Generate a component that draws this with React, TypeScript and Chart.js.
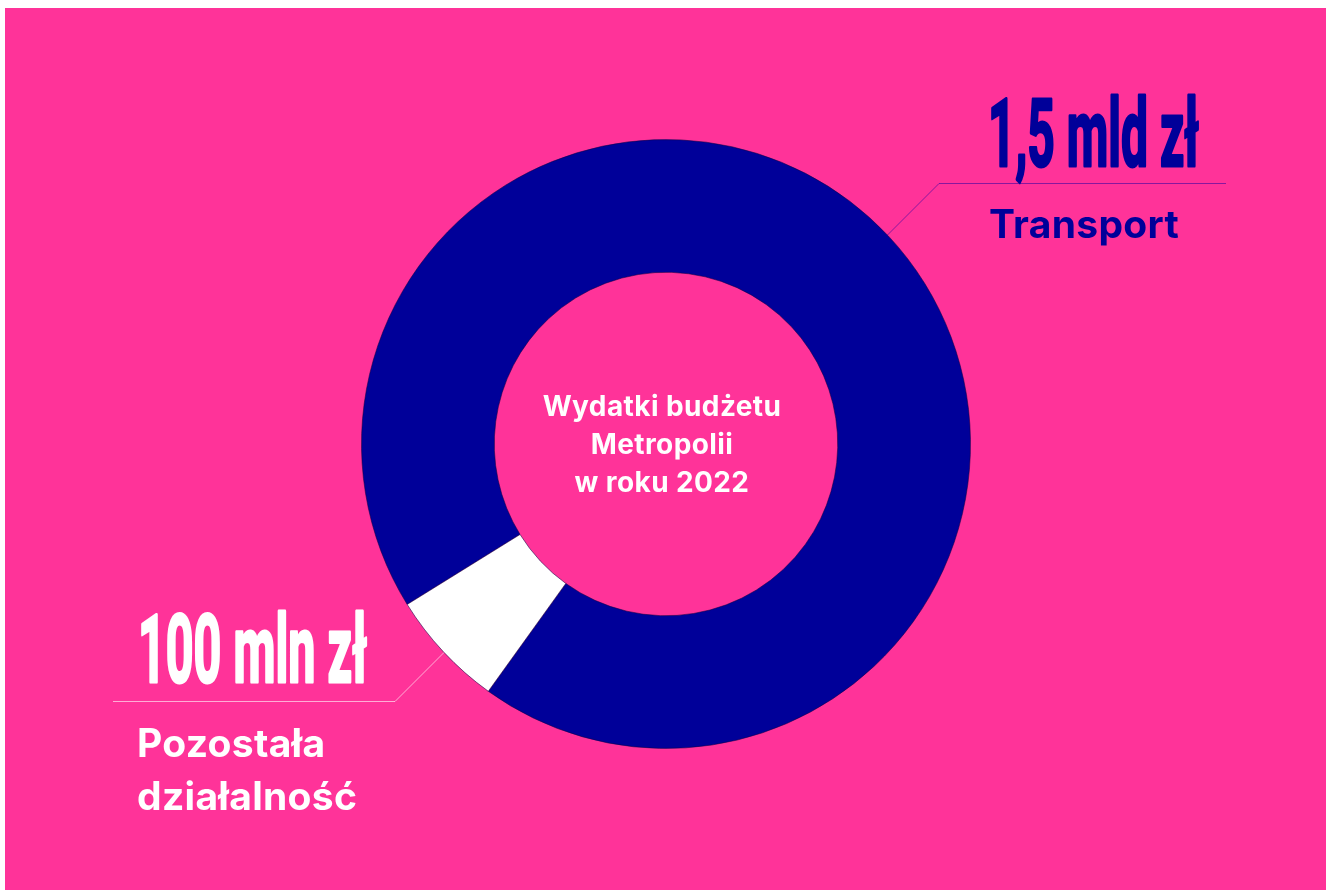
import React, { useEffect, useRef } from "react";
import { Chart, registerables } from "chart.js";

Chart.register(...registerables);

// ---- data ----
const categories = ["Transport", "Pozostała działalność"];
const values = [1500, 100]; // mln zł
const valueLabels = ["1,5 mld zł", "100 mln zł"];
const transportLines = ["Transport"];
const otherLines = ["Pozostała", "działalność"];
const centerLines = ["Wydatki budżetu", "Metropolii", "w roku 2022"];

// ---- styles ----
const PINK = "#ff3399";
const NAVY = "#000099";
const WHITE = "#ffffff";
const sliceColors = [NAVY, WHITE];

function drawCondensed(
  ctx: CanvasRenderingContext2D,
  text: string,
  x: number,
  y: number,
  width: number,
  font: string,
  color: string
) {
  ctx.save();
  ctx.font = font;
  const w = ctx.measureText(text).width;
  ctx.translate(x + 1, y - 1);
  ctx.scale((width - 2) / w, 1);
  ctx.fillStyle = color;
  ctx.strokeStyle = color;
  ctx.lineWidth = 3;
  ctx.lineJoin = "round";
  ctx.textAlign = "left";
  ctx.textBaseline = "alphabetic";
  ctx.fillText(text, 0, 0);
  ctx.strokeText(text, 0, 0);
  ctx.restore();
}

function drawText(
  ctx: CanvasRenderingContext2D,
  text: string,
  x: number,
  y: number,
  font: string,
  color: string,
  align: CanvasTextAlign = "left",
  spacing = "0px"
) {
  ctx.save();
  ctx.font = font;
  (ctx as any).letterSpacing = spacing;
  ctx.fillStyle = color;
  ctx.textAlign = align;
  ctx.textBaseline = "alphabetic";
  ctx.fillText(text, x, y);
  ctx.restore();
}

const annotationPlugin = {
  id: "annotations",
  beforeDatasetsDraw(chart: any) {
    const ctx: CanvasRenderingContext2D = chart.ctx;
    ctx.save();
    ctx.lineWidth = 1;
    ctx.strokeStyle = "rgba(40,0,160,0.55)";
    ctx.beginPath();
    ctx.moveTo(874, 235.5);
    ctx.lineTo(934, 175.5);
    ctx.lineTo(1221, 175.5);
    ctx.stroke();
    ctx.strokeStyle = "rgba(255,255,255,0.6)";
    ctx.beginPath();
    ctx.moveTo(450, 633.5);
    ctx.lineTo(390, 693.5);
    ctx.lineTo(108, 693.5);
    ctx.stroke();
    ctx.restore();
  },
  afterDraw(chart: any) {
    const ctx: CanvasRenderingContext2D = chart.ctx;
    const condensed = "bold 94px Roboto";
    const label = "bold 39px Inter";
    // Transport
    drawCondensed(ctx, valueLabels[0], 982, 159, 213, condensed, NAVY);
    transportLines.forEach((t, i) => drawText(ctx, t, 984, 230 + i * 53, label, NAVY, "left", "0.3px"));
    // Other
    drawCondensed(ctx, valueLabels[1], 132, 675, 231, condensed, WHITE);
    otherLines.forEach((t, i) => drawText(ctx, t, 132, 749 + i * 53, label, WHITE, "left", "0.3px"));
    // Center
    const area = chart.chartArea;
    const cx = (area.left + area.right) / 2;
    centerLines.forEach((t, i) =>
      drawText(ctx, t, cx - 4, 408 + i * 38, "bold 28px Inter", WHITE, "center", "0.4px")
    );
  },
};

export default function App() {
  const canvasRef = useRef<HTMLCanvasElement | null>(null);

  useEffect(() => {
    if (!canvasRef.current) return;
    const chart = new Chart(canvasRef.current, {
      type: "doughnut",
      data: {
        labels: categories,
        datasets: [
          {
            data: values,
            backgroundColor: sliceColors,
            borderColor: "rgba(20,0,70,0.55)",
            borderWidth: 1,
            hoverOffset: 0,
          },
        ],
      },
      options: {
        animation: false,
        responsive: true,
        maintainAspectRatio: false,
        rotation: -121.8,
        cutout: "56.4%",
        events: [],
        layout: { padding: { left: 356, right: 355, top: 131, bottom: 141 } },
        plugins: {
          legend: { display: false },
          tooltip: { enabled: false },
        },
      },
      plugins: [annotationPlugin],
    });
    return () => chart.destroy();
  }, []);

  return (
    <div
      style={{
        position: "fixed",
        left: 0,
        top: 0,
        width: 1326,
        height: 890,
        background: "#ffffff",
      }}
    >
      <div
        style={{
          position: "absolute",
          left: 5,
          top: 8,
          width: 1321,
          height: 882,
          background: PINK,
        }}
      >
        <canvas ref={canvasRef} />
      </div>
    </div>
  );
}
